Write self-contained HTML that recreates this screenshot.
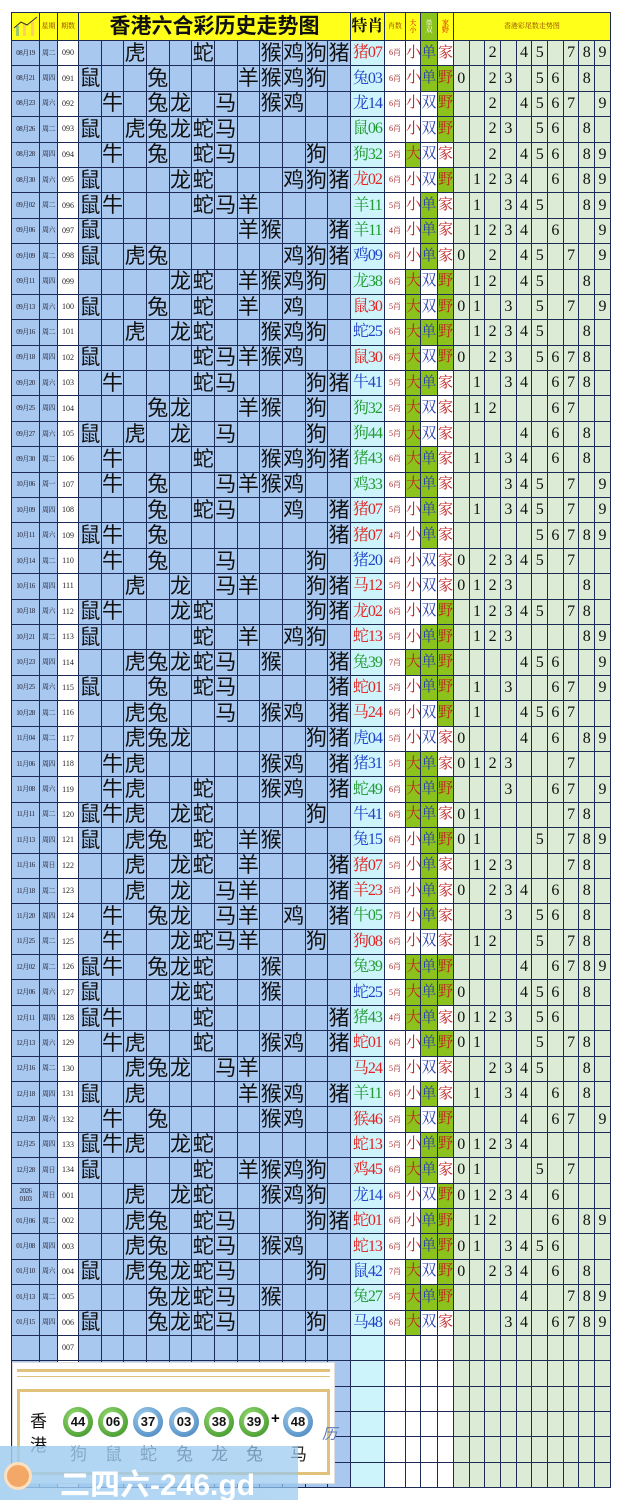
<!DOCTYPE html>
<html><head><meta charset="utf-8"><style>
*{margin:0;padding:0;box-sizing:border-box}
body{width:622px;height:1500px;background:#fff;position:relative;overflow:hidden;font-family:"Liberation Serif","Noto Serif CJK SC","Noto Sans CJK SC",serif}
table{position:absolute;left:11px;top:12px;border-collapse:collapse;table-layout:fixed;width:599px}
td{border:1px solid #1d2a55;text-align:center;vertical-align:middle;height:25.4px;padding:0;overflow:hidden;white-space:nowrap;line-height:1}
tr.h td{height:28px;background:#ffff1a;font-size:7px;color:#8a3a00}
td.d{background:#a9c8f0;font-size:7px;color:#223;letter-spacing:-0.5px}
td.p{background:#fff;font-size:8px;color:#222}
td.z{background:#a9c8f0;font-size:21px;color:#111;font-family:"Liberation Sans","Noto Sans CJK SC",sans-serif}
td.t{background:#cdf4fb;font-size:16px;letter-spacing:-1px}
td.n{background:#fff;font-size:8px;color:#a02020}
td.s{background:#fff;font-size:15px;color:#c02020}
td.u{background:#fff;font-size:15px;color:#2a3fb0}
td.g{background:#8cc21c}
td.k{background:#dcebd5;font-size:16px;color:#111}
.r{color:#e02222}.b{color:#1f3fc6}.gr{color:#1f9a30}
#ban{position:absolute;left:12px;top:1362px;width:323px;height:122px;background:#fff;border:1px solid #ddd}
.ball{position:absolute;top:1407px;width:30px;height:30px;border-radius:50%;font:bold 13px "Liberation Sans",sans-serif;color:#111;text-align:center;line-height:30px}
.ball i{position:absolute;left:5px;top:5px;width:20px;height:20px;border-radius:50%;background:#fff;line-height:20px;font-style:normal}
.bg{background:radial-gradient(circle at 40% 35%,#9fe07a,#2f8a1c)}
.bb{background:radial-gradient(circle at 40% 35%,#a8d4f0,#3a7ab8)}
.lab{position:absolute;top:1440px;font:17px "Liberation Sans","Noto Sans CJK SC",sans-serif;color:#222}
</style></head><body>
<table>
<colgroup><col style="width:28px"><col style="width:18px"><col style="width:21px"><col span="12" style="width:22.67px"><col style="width:34px"><col style="width:21px"><col style="width:15px"><col style="width:17px"><col style="width:16px"><col span="10" style="width:15.7px"></colgroup>
<tr class="h"><td><svg width="26" height="24"><rect x="3" y="12" width="3" height="10" fill="#9c6"/><rect x="10" y="10" width="3" height="12" fill="#fc6"/><rect x="18" y="8" width="3" height="14" fill="#fc6"/><path d="M1 14 L8 8 L14 11 L24 3" stroke="#333" fill="none"/></svg></td><td>星期</td><td>期数</td><td colspan="12" style="font-size:21px;color:#111;font-weight:bold;font-family:'Liberation Sans','Noto Sans CJK SC',sans-serif">香港六合彩历史走势图</td><td style="font-size:16px;color:#111;font-weight:bold">特肖</td><td>肖数</td><td style="color:#c00">大<br>小</td><td style="background:#8cc21c;color:#fff">单<br>双</td><td style="color:#c00">家<br>野</td><td colspan="10">香港彩尾数走势图</td></tr>
<tr><td class="d">08月19</td><td class="d">周二</td><td class="p">090</td><td class="z"></td><td class="z"></td><td class="z">虎</td><td class="z"></td><td class="z"></td><td class="z">蛇</td><td class="z"></td><td class="z"></td><td class="z">猴</td><td class="z">鸡</td><td class="z">狗</td><td class="z r">猪</td><td class="t r">猪07</td><td class="n">6肖</td><td class="s">小</td><td class="u g">单</td><td class="s">家</td><td class="k"></td><td class="k"></td><td class="k">2</td><td class="k"></td><td class="k">4</td><td class="k">5</td><td class="k"></td><td class="k r">7</td><td class="k">8</td><td class="k">9</td></tr>
<tr><td class="d">08月21</td><td class="d">周四</td><td class="p">091</td><td class="z">鼠</td><td class="z"></td><td class="z"></td><td class="z r">兔</td><td class="z"></td><td class="z"></td><td class="z"></td><td class="z">羊</td><td class="z">猴</td><td class="z">鸡</td><td class="z">狗</td><td class="z"></td><td class="t b">兔03</td><td class="n">6肖</td><td class="s">小</td><td class="u g">单</td><td class="s g">野</td><td class="k">0</td><td class="k"></td><td class="k">2</td><td class="k r">3</td><td class="k"></td><td class="k">5</td><td class="k">6</td><td class="k"></td><td class="k">8</td><td class="k"></td></tr>
<tr><td class="d">08月23</td><td class="d">周六</td><td class="p">092</td><td class="z"></td><td class="z">牛</td><td class="z"></td><td class="z">兔</td><td class="z r">龙</td><td class="z"></td><td class="z">马</td><td class="z"></td><td class="z">猴</td><td class="z">鸡</td><td class="z"></td><td class="z"></td><td class="t b">龙14</td><td class="n">6肖</td><td class="s">小</td><td class="u">双</td><td class="s g">野</td><td class="k"></td><td class="k"></td><td class="k">2</td><td class="k"></td><td class="k r">4</td><td class="k">5</td><td class="k">6</td><td class="k">7</td><td class="k"></td><td class="k">9</td></tr>
<tr><td class="d">08月26</td><td class="d">周二</td><td class="p">093</td><td class="z r">鼠</td><td class="z"></td><td class="z">虎</td><td class="z">兔</td><td class="z">龙</td><td class="z">蛇</td><td class="z">马</td><td class="z"></td><td class="z"></td><td class="z"></td><td class="z"></td><td class="z"></td><td class="t gr">鼠06</td><td class="n">6肖</td><td class="s">小</td><td class="u">双</td><td class="s g">野</td><td class="k"></td><td class="k"></td><td class="k">2</td><td class="k">3</td><td class="k"></td><td class="k">5</td><td class="k r">6</td><td class="k"></td><td class="k">8</td><td class="k"></td></tr>
<tr><td class="d">08月28</td><td class="d">周四</td><td class="p">094</td><td class="z"></td><td class="z">牛</td><td class="z"></td><td class="z">兔</td><td class="z"></td><td class="z">蛇</td><td class="z">马</td><td class="z"></td><td class="z"></td><td class="z"></td><td class="z r">狗</td><td class="z"></td><td class="t gr">狗32</td><td class="n">5肖</td><td class="s g">大</td><td class="u">双</td><td class="s">家</td><td class="k"></td><td class="k"></td><td class="k r">2</td><td class="k"></td><td class="k">4</td><td class="k">5</td><td class="k">6</td><td class="k"></td><td class="k">8</td><td class="k">9</td></tr>
<tr><td class="d">08月30</td><td class="d">周六</td><td class="p">095</td><td class="z">鼠</td><td class="z"></td><td class="z"></td><td class="z"></td><td class="z r">龙</td><td class="z">蛇</td><td class="z"></td><td class="z"></td><td class="z"></td><td class="z">鸡</td><td class="z">狗</td><td class="z">猪</td><td class="t r">龙02</td><td class="n">6肖</td><td class="s">小</td><td class="u">双</td><td class="s g">野</td><td class="k"></td><td class="k">1</td><td class="k r">2</td><td class="k">3</td><td class="k">4</td><td class="k"></td><td class="k">6</td><td class="k"></td><td class="k">8</td><td class="k">9</td></tr>
<tr><td class="d">09月02</td><td class="d">周二</td><td class="p">096</td><td class="z">鼠</td><td class="z">牛</td><td class="z"></td><td class="z"></td><td class="z"></td><td class="z">蛇</td><td class="z">马</td><td class="z r">羊</td><td class="z"></td><td class="z"></td><td class="z"></td><td class="z"></td><td class="t gr">羊11</td><td class="n">5肖</td><td class="s">小</td><td class="u g">单</td><td class="s">家</td><td class="k"></td><td class="k r">1</td><td class="k"></td><td class="k">3</td><td class="k">4</td><td class="k">5</td><td class="k"></td><td class="k"></td><td class="k">8</td><td class="k">9</td></tr>
<tr><td class="d">09月06</td><td class="d">周六</td><td class="p">097</td><td class="z">鼠</td><td class="z"></td><td class="z"></td><td class="z"></td><td class="z"></td><td class="z"></td><td class="z"></td><td class="z r">羊</td><td class="z">猴</td><td class="z"></td><td class="z"></td><td class="z">猪</td><td class="t gr">羊11</td><td class="n">4肖</td><td class="s">小</td><td class="u g">单</td><td class="s">家</td><td class="k"></td><td class="k r">1</td><td class="k">2</td><td class="k">3</td><td class="k">4</td><td class="k"></td><td class="k">6</td><td class="k"></td><td class="k"></td><td class="k">9</td></tr>
<tr><td class="d">09月09</td><td class="d">周二</td><td class="p">098</td><td class="z">鼠</td><td class="z"></td><td class="z">虎</td><td class="z">兔</td><td class="z"></td><td class="z"></td><td class="z"></td><td class="z"></td><td class="z"></td><td class="z r">鸡</td><td class="z">狗</td><td class="z">猪</td><td class="t b">鸡09</td><td class="n">6肖</td><td class="s">小</td><td class="u g">单</td><td class="s">家</td><td class="k">0</td><td class="k"></td><td class="k">2</td><td class="k"></td><td class="k">4</td><td class="k">5</td><td class="k"></td><td class="k">7</td><td class="k"></td><td class="k r">9</td></tr>
<tr><td class="d">09月11</td><td class="d">周四</td><td class="p">099</td><td class="z"></td><td class="z"></td><td class="z"></td><td class="z"></td><td class="z r">龙</td><td class="z">蛇</td><td class="z"></td><td class="z">羊</td><td class="z">猴</td><td class="z">鸡</td><td class="z">狗</td><td class="z"></td><td class="t gr">龙38</td><td class="n">6肖</td><td class="s g">大</td><td class="u">双</td><td class="s g">野</td><td class="k"></td><td class="k">1</td><td class="k">2</td><td class="k"></td><td class="k">4</td><td class="k">5</td><td class="k"></td><td class="k"></td><td class="k r">8</td><td class="k"></td></tr>
<tr><td class="d">09月13</td><td class="d">周六</td><td class="p">100</td><td class="z r">鼠</td><td class="z"></td><td class="z"></td><td class="z">兔</td><td class="z"></td><td class="z">蛇</td><td class="z"></td><td class="z">羊</td><td class="z"></td><td class="z">鸡</td><td class="z"></td><td class="z"></td><td class="t r">鼠30</td><td class="n">5肖</td><td class="s g">大</td><td class="u">双</td><td class="s g">野</td><td class="k r">0</td><td class="k">1</td><td class="k"></td><td class="k">3</td><td class="k"></td><td class="k">5</td><td class="k"></td><td class="k">7</td><td class="k"></td><td class="k">9</td></tr>
<tr><td class="d">09月16</td><td class="d">周二</td><td class="p">101</td><td class="z"></td><td class="z"></td><td class="z">虎</td><td class="z"></td><td class="z">龙</td><td class="z r">蛇</td><td class="z"></td><td class="z"></td><td class="z">猴</td><td class="z">鸡</td><td class="z">狗</td><td class="z"></td><td class="t b">蛇25</td><td class="n">6肖</td><td class="s g">大</td><td class="u g">单</td><td class="s g">野</td><td class="k"></td><td class="k">1</td><td class="k">2</td><td class="k">3</td><td class="k">4</td><td class="k r">5</td><td class="k"></td><td class="k"></td><td class="k">8</td><td class="k"></td></tr>
<tr><td class="d">09月18</td><td class="d">周四</td><td class="p">102</td><td class="z r">鼠</td><td class="z"></td><td class="z"></td><td class="z"></td><td class="z"></td><td class="z">蛇</td><td class="z">马</td><td class="z">羊</td><td class="z">猴</td><td class="z">鸡</td><td class="z"></td><td class="z"></td><td class="t r">鼠30</td><td class="n">6肖</td><td class="s g">大</td><td class="u">双</td><td class="s g">野</td><td class="k r">0</td><td class="k"></td><td class="k">2</td><td class="k">3</td><td class="k"></td><td class="k">5</td><td class="k">6</td><td class="k">7</td><td class="k">8</td><td class="k"></td></tr>
<tr><td class="d">09月20</td><td class="d">周六</td><td class="p">103</td><td class="z"></td><td class="z r">牛</td><td class="z"></td><td class="z"></td><td class="z"></td><td class="z">蛇</td><td class="z">马</td><td class="z"></td><td class="z"></td><td class="z"></td><td class="z">狗</td><td class="z">猪</td><td class="t b">牛41</td><td class="n">5肖</td><td class="s g">大</td><td class="u g">单</td><td class="s">家</td><td class="k"></td><td class="k r">1</td><td class="k"></td><td class="k">3</td><td class="k">4</td><td class="k"></td><td class="k">6</td><td class="k">7</td><td class="k">8</td><td class="k"></td></tr>
<tr><td class="d">09月25</td><td class="d">周四</td><td class="p">104</td><td class="z"></td><td class="z"></td><td class="z"></td><td class="z">兔</td><td class="z">龙</td><td class="z"></td><td class="z"></td><td class="z">羊</td><td class="z">猴</td><td class="z"></td><td class="z r">狗</td><td class="z"></td><td class="t gr">狗32</td><td class="n">5肖</td><td class="s g">大</td><td class="u">双</td><td class="s">家</td><td class="k"></td><td class="k">1</td><td class="k r">2</td><td class="k"></td><td class="k"></td><td class="k"></td><td class="k">6</td><td class="k">7</td><td class="k"></td><td class="k"></td></tr>
<tr><td class="d">09月27</td><td class="d">周六</td><td class="p">105</td><td class="z">鼠</td><td class="z"></td><td class="z">虎</td><td class="z"></td><td class="z">龙</td><td class="z"></td><td class="z">马</td><td class="z"></td><td class="z"></td><td class="z"></td><td class="z r">狗</td><td class="z"></td><td class="t gr">狗44</td><td class="n">5肖</td><td class="s g">大</td><td class="u">双</td><td class="s">家</td><td class="k"></td><td class="k"></td><td class="k"></td><td class="k"></td><td class="k r">4</td><td class="k"></td><td class="k">6</td><td class="k"></td><td class="k">8</td><td class="k"></td></tr>
<tr><td class="d">09月30</td><td class="d">周二</td><td class="p">106</td><td class="z"></td><td class="z">牛</td><td class="z"></td><td class="z"></td><td class="z"></td><td class="z">蛇</td><td class="z"></td><td class="z"></td><td class="z">猴</td><td class="z">鸡</td><td class="z">狗</td><td class="z r">猪</td><td class="t gr">猪43</td><td class="n">6肖</td><td class="s g">大</td><td class="u g">单</td><td class="s">家</td><td class="k"></td><td class="k">1</td><td class="k"></td><td class="k r">3</td><td class="k">4</td><td class="k"></td><td class="k">6</td><td class="k"></td><td class="k">8</td><td class="k"></td></tr>
<tr><td class="d">10月06</td><td class="d">周一</td><td class="p">107</td><td class="z"></td><td class="z">牛</td><td class="z"></td><td class="z">兔</td><td class="z"></td><td class="z"></td><td class="z">马</td><td class="z">羊</td><td class="z">猴</td><td class="z r">鸡</td><td class="z"></td><td class="z"></td><td class="t gr">鸡33</td><td class="n">6肖</td><td class="s g">大</td><td class="u g">单</td><td class="s">家</td><td class="k"></td><td class="k"></td><td class="k"></td><td class="k r">3</td><td class="k">4</td><td class="k">5</td><td class="k"></td><td class="k">7</td><td class="k"></td><td class="k">9</td></tr>
<tr><td class="d">10月09</td><td class="d">周四</td><td class="p">108</td><td class="z"></td><td class="z"></td><td class="z"></td><td class="z">兔</td><td class="z"></td><td class="z">蛇</td><td class="z">马</td><td class="z"></td><td class="z"></td><td class="z">鸡</td><td class="z"></td><td class="z r">猪</td><td class="t r">猪07</td><td class="n">5肖</td><td class="s">小</td><td class="u g">单</td><td class="s">家</td><td class="k"></td><td class="k">1</td><td class="k"></td><td class="k">3</td><td class="k">4</td><td class="k">5</td><td class="k"></td><td class="k r">7</td><td class="k"></td><td class="k">9</td></tr>
<tr><td class="d">10月11</td><td class="d">周六</td><td class="p">109</td><td class="z">鼠</td><td class="z">牛</td><td class="z"></td><td class="z">兔</td><td class="z"></td><td class="z"></td><td class="z"></td><td class="z"></td><td class="z"></td><td class="z"></td><td class="z"></td><td class="z r">猪</td><td class="t r">猪07</td><td class="n">4肖</td><td class="s">小</td><td class="u g">单</td><td class="s">家</td><td class="k"></td><td class="k"></td><td class="k"></td><td class="k"></td><td class="k"></td><td class="k">5</td><td class="k">6</td><td class="k r">7</td><td class="k">8</td><td class="k">9</td></tr>
<tr><td class="d">10月14</td><td class="d">周二</td><td class="p">110</td><td class="z"></td><td class="z">牛</td><td class="z"></td><td class="z">兔</td><td class="z"></td><td class="z"></td><td class="z">马</td><td class="z"></td><td class="z"></td><td class="z"></td><td class="z r">狗</td><td class="z"></td><td class="t b">猪20</td><td class="n">4肖</td><td class="s">小</td><td class="u">双</td><td class="s">家</td><td class="k r">0</td><td class="k"></td><td class="k">2</td><td class="k">3</td><td class="k">4</td><td class="k">5</td><td class="k"></td><td class="k">7</td><td class="k"></td><td class="k"></td></tr>
<tr><td class="d">10月16</td><td class="d">周四</td><td class="p">111</td><td class="z"></td><td class="z"></td><td class="z">虎</td><td class="z"></td><td class="z">龙</td><td class="z"></td><td class="z r">马</td><td class="z">羊</td><td class="z"></td><td class="z"></td><td class="z">狗</td><td class="z">猪</td><td class="t r">马12</td><td class="n">5肖</td><td class="s">小</td><td class="u">双</td><td class="s">家</td><td class="k">0</td><td class="k">1</td><td class="k r">2</td><td class="k">3</td><td class="k"></td><td class="k"></td><td class="k"></td><td class="k"></td><td class="k">8</td><td class="k"></td></tr>
<tr><td class="d">10月18</td><td class="d">周六</td><td class="p">112</td><td class="z">鼠</td><td class="z">牛</td><td class="z"></td><td class="z"></td><td class="z r">龙</td><td class="z">蛇</td><td class="z"></td><td class="z"></td><td class="z"></td><td class="z"></td><td class="z">狗</td><td class="z">猪</td><td class="t r">龙02</td><td class="n">6肖</td><td class="s">小</td><td class="u">双</td><td class="s g">野</td><td class="k"></td><td class="k">1</td><td class="k r">2</td><td class="k">3</td><td class="k">4</td><td class="k">5</td><td class="k"></td><td class="k">7</td><td class="k">8</td><td class="k"></td></tr>
<tr><td class="d">10月21</td><td class="d">周二</td><td class="p">113</td><td class="z">鼠</td><td class="z"></td><td class="z"></td><td class="z"></td><td class="z"></td><td class="z r">蛇</td><td class="z"></td><td class="z">羊</td><td class="z"></td><td class="z">鸡</td><td class="z">狗</td><td class="z"></td><td class="t r">蛇13</td><td class="n">5肖</td><td class="s">小</td><td class="u g">单</td><td class="s g">野</td><td class="k"></td><td class="k">1</td><td class="k">2</td><td class="k r">3</td><td class="k"></td><td class="k"></td><td class="k"></td><td class="k"></td><td class="k">8</td><td class="k">9</td></tr>
<tr><td class="d">10月23</td><td class="d">周四</td><td class="p">114</td><td class="z"></td><td class="z"></td><td class="z">虎</td><td class="z r">兔</td><td class="z">龙</td><td class="z">蛇</td><td class="z">马</td><td class="z"></td><td class="z">猴</td><td class="z"></td><td class="z"></td><td class="z">猪</td><td class="t gr">兔39</td><td class="n">7肖</td><td class="s g">大</td><td class="u g">单</td><td class="s g">野</td><td class="k"></td><td class="k"></td><td class="k"></td><td class="k"></td><td class="k">4</td><td class="k">5</td><td class="k">6</td><td class="k"></td><td class="k"></td><td class="k r">9</td></tr>
<tr><td class="d">10月25</td><td class="d">周六</td><td class="p">115</td><td class="z">鼠</td><td class="z"></td><td class="z"></td><td class="z">兔</td><td class="z"></td><td class="z r">蛇</td><td class="z">马</td><td class="z"></td><td class="z"></td><td class="z"></td><td class="z"></td><td class="z">猪</td><td class="t r">蛇01</td><td class="n">5肖</td><td class="s">小</td><td class="u g">单</td><td class="s g">野</td><td class="k"></td><td class="k r">1</td><td class="k"></td><td class="k">3</td><td class="k"></td><td class="k"></td><td class="k">6</td><td class="k">7</td><td class="k"></td><td class="k">9</td></tr>
<tr><td class="d">10月28</td><td class="d">周二</td><td class="p">116</td><td class="z"></td><td class="z"></td><td class="z">虎</td><td class="z">兔</td><td class="z"></td><td class="z"></td><td class="z r">马</td><td class="z"></td><td class="z">猴</td><td class="z">鸡</td><td class="z"></td><td class="z">猪</td><td class="t r">马24</td><td class="n">6肖</td><td class="s">小</td><td class="u">双</td><td class="s g">野</td><td class="k"></td><td class="k">1</td><td class="k"></td><td class="k"></td><td class="k r">4</td><td class="k">5</td><td class="k">6</td><td class="k">7</td><td class="k"></td><td class="k"></td></tr>
<tr><td class="d">11月04</td><td class="d">周二</td><td class="p">117</td><td class="z"></td><td class="z"></td><td class="z r">虎</td><td class="z">兔</td><td class="z">龙</td><td class="z"></td><td class="z"></td><td class="z"></td><td class="z"></td><td class="z"></td><td class="z">狗</td><td class="z">猪</td><td class="t b">虎04</td><td class="n">5肖</td><td class="s">小</td><td class="u">双</td><td class="s">家</td><td class="k">0</td><td class="k"></td><td class="k"></td><td class="k"></td><td class="k r">4</td><td class="k"></td><td class="k">6</td><td class="k"></td><td class="k">8</td><td class="k">9</td></tr>
<tr><td class="d">11月06</td><td class="d">周四</td><td class="p">118</td><td class="z"></td><td class="z">牛</td><td class="z">虎</td><td class="z"></td><td class="z"></td><td class="z"></td><td class="z"></td><td class="z"></td><td class="z">猴</td><td class="z">鸡</td><td class="z"></td><td class="z r">猪</td><td class="t b">猪31</td><td class="n">5肖</td><td class="s g">大</td><td class="u g">单</td><td class="s">家</td><td class="k">0</td><td class="k r">1</td><td class="k">2</td><td class="k">3</td><td class="k"></td><td class="k"></td><td class="k"></td><td class="k">7</td><td class="k"></td><td class="k"></td></tr>
<tr><td class="d">11月08</td><td class="d">周六</td><td class="p">119</td><td class="z"></td><td class="z">牛</td><td class="z">虎</td><td class="z"></td><td class="z"></td><td class="z r">蛇</td><td class="z"></td><td class="z"></td><td class="z">猴</td><td class="z">鸡</td><td class="z"></td><td class="z">猪</td><td class="t gr">蛇49</td><td class="n">6肖</td><td class="s g">大</td><td class="u g">单</td><td class="s g">野</td><td class="k"></td><td class="k"></td><td class="k"></td><td class="k">3</td><td class="k"></td><td class="k"></td><td class="k">6</td><td class="k">7</td><td class="k"></td><td class="k r">9</td></tr>
<tr><td class="d">11月11</td><td class="d">周二</td><td class="p">120</td><td class="z">鼠</td><td class="z r">牛</td><td class="z">虎</td><td class="z"></td><td class="z">龙</td><td class="z">蛇</td><td class="z"></td><td class="z"></td><td class="z"></td><td class="z"></td><td class="z">狗</td><td class="z"></td><td class="t b">牛41</td><td class="n">6肖</td><td class="s g">大</td><td class="u g">单</td><td class="s">家</td><td class="k">0</td><td class="k r">1</td><td class="k"></td><td class="k"></td><td class="k"></td><td class="k"></td><td class="k"></td><td class="k">7</td><td class="k">8</td><td class="k"></td></tr>
<tr><td class="d">11月13</td><td class="d">周四</td><td class="p">121</td><td class="z">鼠</td><td class="z"></td><td class="z">虎</td><td class="z r">兔</td><td class="z"></td><td class="z">蛇</td><td class="z"></td><td class="z">羊</td><td class="z">猴</td><td class="z"></td><td class="z"></td><td class="z"></td><td class="t b">兔15</td><td class="n">6肖</td><td class="s">小</td><td class="u g">单</td><td class="s g">野</td><td class="k">0</td><td class="k">1</td><td class="k"></td><td class="k"></td><td class="k"></td><td class="k r">5</td><td class="k"></td><td class="k">7</td><td class="k">8</td><td class="k">9</td></tr>
<tr><td class="d">11月16</td><td class="d">周日</td><td class="p">122</td><td class="z"></td><td class="z"></td><td class="z">虎</td><td class="z"></td><td class="z">龙</td><td class="z">蛇</td><td class="z"></td><td class="z">羊</td><td class="z"></td><td class="z"></td><td class="z"></td><td class="z r">猪</td><td class="t r">猪07</td><td class="n">5肖</td><td class="s">小</td><td class="u g">单</td><td class="s">家</td><td class="k"></td><td class="k">1</td><td class="k">2</td><td class="k">3</td><td class="k"></td><td class="k"></td><td class="k"></td><td class="k r">7</td><td class="k">8</td><td class="k"></td></tr>
<tr><td class="d">11月18</td><td class="d">周二</td><td class="p">123</td><td class="z"></td><td class="z"></td><td class="z">虎</td><td class="z"></td><td class="z">龙</td><td class="z"></td><td class="z">马</td><td class="z r">羊</td><td class="z"></td><td class="z"></td><td class="z"></td><td class="z">猪</td><td class="t r">羊23</td><td class="n">5肖</td><td class="s">小</td><td class="u g">单</td><td class="s">家</td><td class="k">0</td><td class="k"></td><td class="k">2</td><td class="k r">3</td><td class="k">4</td><td class="k"></td><td class="k">6</td><td class="k"></td><td class="k">8</td><td class="k"></td></tr>
<tr><td class="d">11月20</td><td class="d">周四</td><td class="p">124</td><td class="z"></td><td class="z">牛</td><td class="z"></td><td class="z">兔</td><td class="z">龙</td><td class="z"></td><td class="z">马</td><td class="z">羊</td><td class="z"></td><td class="z">鸡</td><td class="z"></td><td class="z">猪</td><td class="t gr">牛05</td><td class="n">7肖</td><td class="s">小</td><td class="u g">单</td><td class="s">家</td><td class="k"></td><td class="k"></td><td class="k"></td><td class="k">3</td><td class="k"></td><td class="k r">5</td><td class="k">6</td><td class="k"></td><td class="k">8</td><td class="k"></td></tr>
<tr><td class="d">11月25</td><td class="d">周二</td><td class="p">125</td><td class="z"></td><td class="z">牛</td><td class="z"></td><td class="z"></td><td class="z">龙</td><td class="z">蛇</td><td class="z">马</td><td class="z">羊</td><td class="z"></td><td class="z"></td><td class="z r">狗</td><td class="z"></td><td class="t r">狗08</td><td class="n">6肖</td><td class="s">小</td><td class="u">双</td><td class="s">家</td><td class="k"></td><td class="k">1</td><td class="k">2</td><td class="k"></td><td class="k"></td><td class="k">5</td><td class="k"></td><td class="k">7</td><td class="k r">8</td><td class="k"></td></tr>
<tr><td class="d">12月02</td><td class="d">周二</td><td class="p">126</td><td class="z">鼠</td><td class="z">牛</td><td class="z"></td><td class="z r">兔</td><td class="z">龙</td><td class="z">蛇</td><td class="z"></td><td class="z"></td><td class="z">猴</td><td class="z"></td><td class="z"></td><td class="z"></td><td class="t gr">兔39</td><td class="n">6肖</td><td class="s g">大</td><td class="u g">单</td><td class="s g">野</td><td class="k"></td><td class="k"></td><td class="k"></td><td class="k"></td><td class="k">4</td><td class="k"></td><td class="k">6</td><td class="k">7</td><td class="k">8</td><td class="k r">9</td></tr>
<tr><td class="d">12月06</td><td class="d">周六</td><td class="p">127</td><td class="z">鼠</td><td class="z"></td><td class="z"></td><td class="z"></td><td class="z">龙</td><td class="z r">蛇</td><td class="z"></td><td class="z"></td><td class="z">猴</td><td class="z"></td><td class="z"></td><td class="z"></td><td class="t b">蛇25</td><td class="n">5肖</td><td class="s g">大</td><td class="u g">单</td><td class="s g">野</td><td class="k">0</td><td class="k"></td><td class="k"></td><td class="k"></td><td class="k">4</td><td class="k r">5</td><td class="k">6</td><td class="k"></td><td class="k">8</td><td class="k"></td></tr>
<tr><td class="d">12月11</td><td class="d">周四</td><td class="p">128</td><td class="z">鼠</td><td class="z">牛</td><td class="z"></td><td class="z"></td><td class="z"></td><td class="z">蛇</td><td class="z"></td><td class="z"></td><td class="z"></td><td class="z"></td><td class="z"></td><td class="z r">猪</td><td class="t gr">猪43</td><td class="n">4肖</td><td class="s g">大</td><td class="u g">单</td><td class="s">家</td><td class="k">0</td><td class="k">1</td><td class="k">2</td><td class="k r">3</td><td class="k"></td><td class="k">5</td><td class="k">6</td><td class="k"></td><td class="k"></td><td class="k"></td></tr>
<tr><td class="d">12月13</td><td class="d">周六</td><td class="p">129</td><td class="z"></td><td class="z">牛</td><td class="z">虎</td><td class="z"></td><td class="z"></td><td class="z r">蛇</td><td class="z"></td><td class="z"></td><td class="z">猴</td><td class="z">鸡</td><td class="z"></td><td class="z">猪</td><td class="t r">蛇01</td><td class="n">6肖</td><td class="s">小</td><td class="u g">单</td><td class="s g">野</td><td class="k">0</td><td class="k r">1</td><td class="k"></td><td class="k"></td><td class="k"></td><td class="k">5</td><td class="k"></td><td class="k">7</td><td class="k">8</td><td class="k"></td></tr>
<tr><td class="d">12月16</td><td class="d">周二</td><td class="p">130</td><td class="z"></td><td class="z"></td><td class="z">虎</td><td class="z">兔</td><td class="z">龙</td><td class="z"></td><td class="z r">马</td><td class="z">羊</td><td class="z"></td><td class="z"></td><td class="z"></td><td class="z"></td><td class="t r">马24</td><td class="n">5肖</td><td class="s">小</td><td class="u">双</td><td class="s">家</td><td class="k"></td><td class="k"></td><td class="k">2</td><td class="k">3</td><td class="k r">4</td><td class="k">5</td><td class="k"></td><td class="k"></td><td class="k">8</td><td class="k"></td></tr>
<tr><td class="d">12月18</td><td class="d">周四</td><td class="p">131</td><td class="z">鼠</td><td class="z"></td><td class="z">虎</td><td class="z"></td><td class="z"></td><td class="z"></td><td class="z"></td><td class="z r">羊</td><td class="z">猴</td><td class="z">鸡</td><td class="z"></td><td class="z">猪</td><td class="t gr">羊11</td><td class="n">6肖</td><td class="s">小</td><td class="u g">单</td><td class="s">家</td><td class="k"></td><td class="k r">1</td><td class="k"></td><td class="k">3</td><td class="k">4</td><td class="k"></td><td class="k">6</td><td class="k"></td><td class="k">8</td><td class="k"></td></tr>
<tr><td class="d">12月20</td><td class="d">周六</td><td class="p">132</td><td class="z"></td><td class="z">牛</td><td class="z"></td><td class="z">兔</td><td class="z"></td><td class="z"></td><td class="z"></td><td class="z"></td><td class="z r">猴</td><td class="z">鸡</td><td class="z"></td><td class="z"></td><td class="t r">猴46</td><td class="n">5肖</td><td class="s g">大</td><td class="u">双</td><td class="s g">野</td><td class="k"></td><td class="k"></td><td class="k"></td><td class="k"></td><td class="k">4</td><td class="k"></td><td class="k r">6</td><td class="k">7</td><td class="k"></td><td class="k">9</td></tr>
<tr><td class="d">12月25</td><td class="d">周四</td><td class="p">133</td><td class="z">鼠</td><td class="z">牛</td><td class="z">虎</td><td class="z"></td><td class="z">龙</td><td class="z r">蛇</td><td class="z"></td><td class="z"></td><td class="z"></td><td class="z"></td><td class="z"></td><td class="z"></td><td class="t r">蛇13</td><td class="n">5肖</td><td class="s">小</td><td class="u g">单</td><td class="s g">野</td><td class="k">0</td><td class="k">1</td><td class="k">2</td><td class="k r">3</td><td class="k">4</td><td class="k"></td><td class="k"></td><td class="k"></td><td class="k"></td><td class="k"></td></tr>
<tr><td class="d">12月28</td><td class="d">周日</td><td class="p">134</td><td class="z">鼠</td><td class="z"></td><td class="z"></td><td class="z"></td><td class="z"></td><td class="z">蛇</td><td class="z"></td><td class="z">羊</td><td class="z">猴</td><td class="z r">鸡</td><td class="z">狗</td><td class="z"></td><td class="t r">鸡45</td><td class="n">6肖</td><td class="s g">大</td><td class="u g">单</td><td class="s">家</td><td class="k">0</td><td class="k">1</td><td class="k"></td><td class="k"></td><td class="k"></td><td class="k r">5</td><td class="k"></td><td class="k">7</td><td class="k"></td><td class="k"></td></tr>
<tr><td class="d" style="line-height:1.1">2026<br>0103</td><td class="d">周日</td><td class="p">001</td><td class="z"></td><td class="z"></td><td class="z">虎</td><td class="z"></td><td class="z r">龙</td><td class="z">蛇</td><td class="z"></td><td class="z"></td><td class="z">猴</td><td class="z">鸡</td><td class="z">狗</td><td class="z"></td><td class="t b">龙14</td><td class="n">6肖</td><td class="s">小</td><td class="u">双</td><td class="s g">野</td><td class="k">0</td><td class="k">1</td><td class="k">2</td><td class="k">3</td><td class="k r">4</td><td class="k"></td><td class="k">6</td><td class="k"></td><td class="k"></td><td class="k"></td></tr>
<tr><td class="d">01月06</td><td class="d">周二</td><td class="p">002</td><td class="z"></td><td class="z"></td><td class="z">虎</td><td class="z">兔</td><td class="z"></td><td class="z r">蛇</td><td class="z">马</td><td class="z"></td><td class="z"></td><td class="z"></td><td class="z">狗</td><td class="z">猪</td><td class="t r">蛇01</td><td class="n">6肖</td><td class="s">小</td><td class="u g">单</td><td class="s g">野</td><td class="k"></td><td class="k r">1</td><td class="k">2</td><td class="k"></td><td class="k"></td><td class="k"></td><td class="k">6</td><td class="k"></td><td class="k">8</td><td class="k">9</td></tr>
<tr><td class="d">01月08</td><td class="d">周四</td><td class="p">003</td><td class="z"></td><td class="z"></td><td class="z">虎</td><td class="z">兔</td><td class="z"></td><td class="z r">蛇</td><td class="z">马</td><td class="z"></td><td class="z">猴</td><td class="z">鸡</td><td class="z"></td><td class="z"></td><td class="t r">蛇13</td><td class="n">6肖</td><td class="s">小</td><td class="u g">单</td><td class="s g">野</td><td class="k">0</td><td class="k">1</td><td class="k"></td><td class="k r">3</td><td class="k">4</td><td class="k">5</td><td class="k">6</td><td class="k"></td><td class="k"></td><td class="k"></td></tr>
<tr><td class="d">01月10</td><td class="d">周六</td><td class="p">004</td><td class="z r">鼠</td><td class="z"></td><td class="z">虎</td><td class="z">兔</td><td class="z">龙</td><td class="z">蛇</td><td class="z">马</td><td class="z"></td><td class="z"></td><td class="z"></td><td class="z">狗</td><td class="z"></td><td class="t b">鼠42</td><td class="n">7肖</td><td class="s g">大</td><td class="u">双</td><td class="s g">野</td><td class="k">0</td><td class="k"></td><td class="k r">2</td><td class="k">3</td><td class="k">4</td><td class="k"></td><td class="k">6</td><td class="k"></td><td class="k">8</td><td class="k"></td></tr>
<tr><td class="d">01月13</td><td class="d">周二</td><td class="p">005</td><td class="z"></td><td class="z"></td><td class="z"></td><td class="z r">兔</td><td class="z">龙</td><td class="z">蛇</td><td class="z">马</td><td class="z"></td><td class="z">猴</td><td class="z"></td><td class="z"></td><td class="z"></td><td class="t gr">兔27</td><td class="n">5肖</td><td class="s g">大</td><td class="u g">单</td><td class="s g">野</td><td class="k"></td><td class="k"></td><td class="k"></td><td class="k"></td><td class="k">4</td><td class="k"></td><td class="k"></td><td class="k r">7</td><td class="k">8</td><td class="k">9</td></tr>
<tr><td class="d">01月15</td><td class="d">周四</td><td class="p">006</td><td class="z">鼠</td><td class="z"></td><td class="z"></td><td class="z">兔</td><td class="z">龙</td><td class="z">蛇</td><td class="z r">马</td><td class="z"></td><td class="z"></td><td class="z"></td><td class="z">狗</td><td class="z"></td><td class="t b">马48</td><td class="n">6肖</td><td class="s g">大</td><td class="u">双</td><td class="s">家</td><td class="k"></td><td class="k"></td><td class="k"></td><td class="k">3</td><td class="k">4</td><td class="k"></td><td class="k">6</td><td class="k">7</td><td class="k r">8</td><td class="k">9</td></tr>
<tr><td class="d"></td><td class="d"></td><td class="p">007</td><td class="z"></td><td class="z"></td><td class="z"></td><td class="z"></td><td class="z"></td><td class="z"></td><td class="z"></td><td class="z"></td><td class="z"></td><td class="z"></td><td class="z"></td><td class="z"></td><td class="t"></td><td class="n"></td><td class="s"></td><td class="u"></td><td class="s"></td><td class="k"></td><td class="k"></td><td class="k"></td><td class="k"></td><td class="k"></td><td class="k"></td><td class="k"></td><td class="k"></td><td class="k"></td><td class="k"></td></tr>
<tr><td class="d"></td><td class="d"></td><td class="p"></td><td class="z"></td><td class="z"></td><td class="z"></td><td class="z"></td><td class="z"></td><td class="z"></td><td class="z"></td><td class="z"></td><td class="z"></td><td class="z"></td><td class="z"></td><td class="z"></td><td class="t"></td><td class="n"></td><td class="s"></td><td class="u"></td><td class="s"></td><td class="k"></td><td class="k"></td><td class="k"></td><td class="k"></td><td class="k"></td><td class="k"></td><td class="k"></td><td class="k"></td><td class="k"></td><td class="k"></td></tr>
<tr><td class="d"></td><td class="d"></td><td class="p"></td><td class="z"></td><td class="z"></td><td class="z"></td><td class="z"></td><td class="z"></td><td class="z"></td><td class="z"></td><td class="z"></td><td class="z"></td><td class="z"></td><td class="z"></td><td class="z"></td><td class="t"></td><td class="n"></td><td class="s"></td><td class="u"></td><td class="s"></td><td class="k"></td><td class="k"></td><td class="k"></td><td class="k"></td><td class="k"></td><td class="k"></td><td class="k"></td><td class="k"></td><td class="k"></td><td class="k"></td></tr>
<tr><td class="d"></td><td class="d"></td><td class="p"></td><td class="z"></td><td class="z"></td><td class="z"></td><td class="z"></td><td class="z"></td><td class="z"></td><td class="z"></td><td class="z"></td><td class="z"></td><td class="z"></td><td class="z"></td><td class="z"></td><td class="t"></td><td class="n"></td><td class="s"></td><td class="u"></td><td class="s"></td><td class="k"></td><td class="k"></td><td class="k"></td><td class="k"></td><td class="k"></td><td class="k"></td><td class="k"></td><td class="k"></td><td class="k"></td><td class="k"></td></tr>
<tr><td class="d"></td><td class="d"></td><td class="p"></td><td class="z"></td><td class="z"></td><td class="z"></td><td class="z"></td><td class="z"></td><td class="z"></td><td class="z"></td><td class="z"></td><td class="z"></td><td class="z"></td><td class="z"></td><td class="z"></td><td class="t"></td><td class="n"></td><td class="s"></td><td class="u"></td><td class="s"></td><td class="k"></td><td class="k"></td><td class="k"></td><td class="k"></td><td class="k"></td><td class="k"></td><td class="k"></td><td class="k"></td><td class="k"></td><td class="k"></td></tr>
<tr><td class="d"></td><td class="d"></td><td class="p"></td><td class="z"></td><td class="z"></td><td class="z"></td><td class="z"></td><td class="z"></td><td class="z"></td><td class="z"></td><td class="z"></td><td class="z"></td><td class="z"></td><td class="z"></td><td class="z"></td><td class="t"></td><td class="n"></td><td class="s"></td><td class="u"></td><td class="s"></td><td class="k"></td><td class="k"></td><td class="k"></td><td class="k"></td><td class="k"></td><td class="k"></td><td class="k"></td><td class="k"></td><td class="k"></td><td class="k"></td></tr>
</table>
<div id="ban">
<div style="position:absolute;left:4px;top:6px;right:4px;height:8px;border-top:3px solid #e2c27a;border-bottom:1px solid #e2c27a"></div>
<div style="position:absolute;left:4px;top:26px;right:4px;bottom:8px;border:3px solid #e2c27a"></div>
</div>
<div style="position:absolute;left:30px;top:1410px;font:17px 'Liberation Sans','Noto Sans CJK SC',sans-serif;line-height:24px;color:#111">香<br>港</div>
<div class="ball bg" style="left:63px"><i>44</i></div>
<div class="ball bg" style="left:98px"><i>06</i></div>
<div class="ball bb" style="left:133px"><i>37</i></div>
<div class="ball bb" style="left:169px"><i>03</i></div>
<div class="ball bg" style="left:204px"><i>38</i></div>
<div class="ball bg" style="left:239px"><i>39</i></div>
<div style="position:absolute;left:271px;top:1410px;font:bold 15px 'Liberation Sans',sans-serif">+</div>
<div class="ball bb" style="left:283px"><i>48</i></div>
<div class="lab" style="left:70px">狗</div><div class="lab" style="left:105px">鼠</div><div class="lab" style="left:140px">蛇</div><div class="lab" style="left:176px">兔</div><div class="lab" style="left:211px">龙</div><div class="lab" style="left:246px">兔</div><div class="lab" style="left:290px">马</div>
<div style="position:absolute;left:322px;top:1423px;font:italic 15px 'Liberation Sans','Noto Sans CJK SC',sans-serif;color:#5a7ab8">历</div>
<div style="position:absolute;left:0;top:1446px;width:298px;height:54px;background:linear-gradient(90deg,rgba(160,205,240,0.85),rgba(150,200,240,0.7))"></div>
<div style="position:absolute;left:4px;top:1462px;width:28px;height:28px;border-radius:50%;background:#f4a868;border:3px solid #fde0c0"></div>
<div style="position:absolute;left:60px;top:1460px;font:bold 30px 'Liberation Sans','Noto Sans CJK SC',sans-serif;color:#fff;white-space:nowrap">二四六-246.gd</div>
</body></html>
